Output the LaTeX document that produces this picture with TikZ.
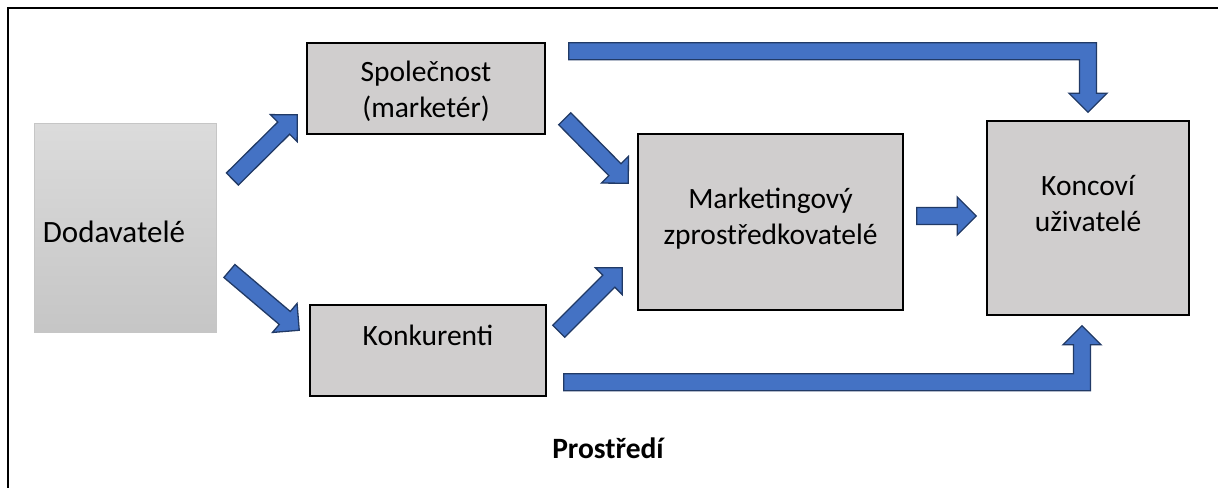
\documentclass[tikz,border=0pt]{standalone}
\usepackage{fontspec}
\setmainfont{Carlito}
\usetikzlibrary{calc}

\definecolor{boxgray}{HTML}{D0CECE}
\definecolor{arrowblue}{HTML}{4472C4}
\definecolor{arrowedge}{HTML}{213A66}

\tikzset{
    box/.style={draw=black, line width=1.5pt, fill=boxgray, inner sep=0pt},
    boxtext/.style={align=center, inner sep=0pt},
    bigarrow/.style={draw=arrowedge, fill=arrowblue, line width=1.3pt, line join=miter},
}

% block arrow from #1 (tail) to #2 (tip)
\newcommand{\blockarrow}[2]{%
    \coordinate (ba-n) at ($(#2)!19pt!(#1)$);
    \draw[bigarrow] ($(#1)!8.5pt!90:(#2)$) -- ($(ba-n)!8.5pt!-90:(#1)$) -- ($(ba-n)!19pt!-90:(#1)$)
        -- (#2) -- ($(ba-n)!19pt!90:(#1)$) -- ($(ba-n)!8.5pt!90:(#1)$) -- ($(#1)!8.5pt!-90:(#2)$) -- cycle;
}
% elbow arrow: right from #1, then down (#3=1) or up (#3=-1) to #2
\newcommand{\elbowarrow}[3]{%
    \draw[bigarrow] ($(#1)+(0,-8.5*#3)$) -| ($(#2)+(8.5,-19*#3)$) -- ++(10.5,0) -- (#2)
        -- ++(-19,19*-#3) -- ++(10.5,0) |- ($(#1)+(0,8.5*#3)$) -- cycle;
}

\begin{document}
\begin{tikzpicture}[x=1pt, y=-1pt, font=\fontsize{29.5}{36}\selectfont]
        \useasboundingbox (0,0) rectangle (1218,488);
        \draw[line width=1.7pt] (1218,8) -- (8,8) -- (8,488);
    %Boxes
        \path node[draw=gray!45, line width=0.8pt, top color=gray!28, bottom color=gray!45, minimum width=182, minimum height=209] (dod) at (125,227.5) {};
        \path node[box, minimum width=238, minimum height=91] (spol) at (426,88.5) {};
        \path node[box, minimum width=236, minimum height=91] (konk) at (428,350.5) {};
        \path node[box, minimum width=265, minimum height=176] (mark) at (770.5,222) {};
        \path node[box, minimum width=202, minimum height=194] (konc) at (1088,218) {};
    %Texts
        \path node[boxtext, font=\fontsize{31}{38}\selectfont] (dod-t) at ($(dod)+(-11,4)$) {Dodavatelé};
        \path node[boxtext] (spol-t) at ($(spol)+(0,3)$) {Společnost\\(marketér)};
        \path node[boxtext] (konk-t) at ($(konk)+(0,-15)$) {Konkurenti};
        \path node[boxtext] (mark-t) at ($(mark)+(0,-3.5)$) {Marketingový\\zprostředkovatelé};
        \path node[boxtext] (konc-t) at ($(konc)+(0,-14)$) {Koncoví\\uživatelé};
        \path node[font=\fontsize{29.5}{36}\selectfont\bfseries] (prost) at (608,448) {Prostředí};
    %Arrow ends
        \coordinate (a1s) at ($(dod.east)+(16,-48.5)$);
        \coordinate (a1e) at ($(spol.south west)+(-9,-20)$);
        \coordinate (a2s) at ($(dod.east)+(13,43.5)$);
        \coordinate (a2e) at ($(konk.north west)+(-10,26)$);
        \coordinate (a3s) at ($(spol.south east)+(19,-16)$);
        \coordinate (a3e) at ($(mark.north west)+(-9,50)$);
        \coordinate (a4s) at ($(konk.north east)+(12,27)$);
        \coordinate (a4e) at ($(mark.south west)+(-15,-43)$);
        \coordinate (a5s) at ($(mark.east)+(13,-6)$);
        \coordinate (a5e) at ($(konc.west)+(-10,-2)$);
        \coordinate (tops) at ($(spol.north east)+(23,9)$);
        \coordinate (tope) at ($(konc.north)+(0,-8)$);
        \coordinate (bots) at ($(konk.south east)+(17,-14.5)$);
        \coordinate (bote) at ($(konc.south)+(-6,10)$);
    %Arrows
        \blockarrow{a1s}{a1e}
        \blockarrow{a2s}{a2e}
        \blockarrow{a3s}{a3e}
        \blockarrow{a4s}{a4e}
        \blockarrow{a5s}{a5e}
        \elbowarrow{tops}{tope}{1}
        \elbowarrow{bots}{bote}{-1}
\end{tikzpicture}
\end{document}
